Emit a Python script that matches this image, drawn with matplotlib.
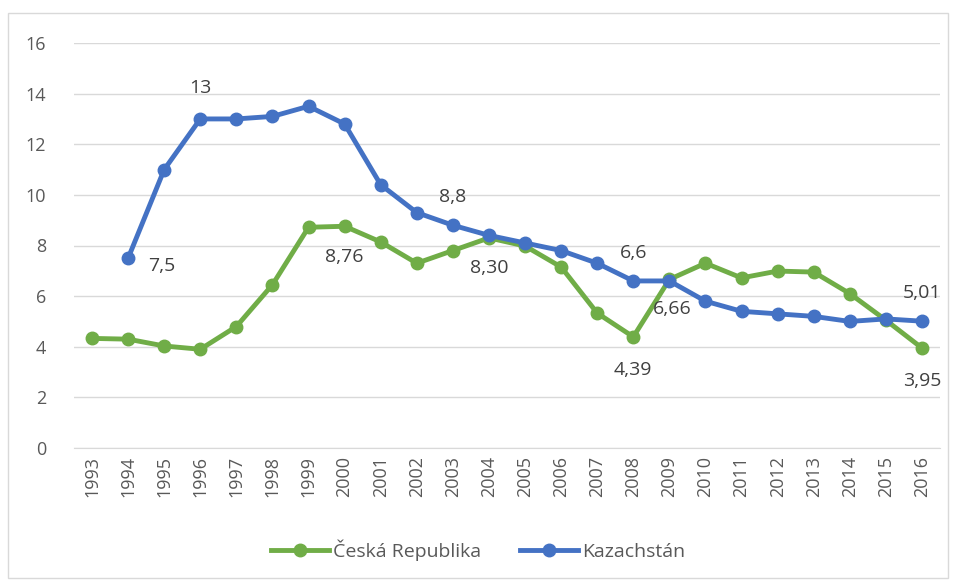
import matplotlib.pyplot as plt
from matplotlib.patches import Rectangle

# Données
years = list(range(1993, 2017))
cz = [4.33, 4.30, 4.03, 3.90, 4.80, 6.45, 8.72, 8.76, 8.14, 7.30, 7.80, 8.30,
      7.98, 7.15, 5.33, 4.39, 6.66, 7.30, 6.72, 6.99, 6.95, 6.10, 5.05, 3.95]
kz_years = list(range(1994, 2017))
kz = [7.5, 11.0, 13.0, 13.0, 13.1, 13.5, 12.8, 10.4, 9.3, 8.8, 8.4, 8.1,
      7.8, 7.3, 6.6, 6.6, 5.8, 5.4, 5.3, 5.2, 5.0, 5.1, 5.01]

# étiquettes : (année, texte, décalage x, décalage y en points)
cz_labels = [(2000, '8,76', 0, -22), (2004, '8,30', 0, -22), (2008, '4,39', 0, -24),
             (2009, '6,66', 2, -21), (2016, '3,95', 0, -24)]
kz_labels = [(1994, '7,5', 24, -6), (1996, '13', 0, 22), (2003, '8,8', 0, 20),
             (2008, '6,6', 0, 20), (2016, '5,01', 0, 20)]

green = '#70AD47'
blue = '#4472C4'
grey = '#595959'
plt.rcParams['font.family'] = ['Open Sans', 'DejaVu Sans']

fig = plt.figure(figsize=(9.56, 5.83), dpi=100)
fig.patches.append(Rectangle((8 / 956, 5 / 583), 940 / 956, 565 / 583, transform=fig.transFigure,
                             fill=False, edgecolor='#D9D9D9', linewidth=1))
ax = fig.add_axes([74 / 956, 135 / 583, 866 / 956, 405 / 583])

ax.plot(years, cz, color=green, linewidth=3.5, marker='o', markersize=9, label='Česká Republika')
ax.plot(kz_years, kz, color=blue, linewidth=3.5, marker='o', markersize=9, label='Kazachstán')

for yr, txt, dx, dy in cz_labels:
    ax.annotate(txt, (yr, cz[years.index(yr)]), xytext=(dx, dy), textcoords='offset points',
                ha='center', va='center', fontsize=14, color='#404040')
for yr, txt, dx, dy in kz_labels:
    ax.annotate(txt, (yr, kz[kz_years.index(yr)]), xytext=(dx, dy), textcoords='offset points',
                ha='center', va='center', fontsize=14, color='#404040')

ax.set_xlim(1992.5, 2016.5)
ax.set_ylim(0, 16)
ax.set_yticks(range(0, 17, 2))
ax.set_xticks(years)
ax.set_xticklabels([str(y) for y in years], rotation=90)
ax.tick_params(axis='both', length=0, labelsize=13, colors=grey)
ax.tick_params(axis='y', pad=20)
ax.tick_params(axis='x', pad=6)
ax.grid(axis='y', color='#D9D9D9', linewidth=1)
ax.set_axisbelow(True)
for s in ['top', 'right', 'left']:
    ax.spines[s].set_visible(False)
ax.spines['bottom'].set_color('#D9D9D9')

fig.legend(loc='center', bbox_to_anchor=(0.5, 33 / 583), ncol=2, frameon=False,
           fontsize=14, labelcolor=grey, handlelength=3, columnspacing=2, handletextpad=0.2)

plt.savefig('out.png')
